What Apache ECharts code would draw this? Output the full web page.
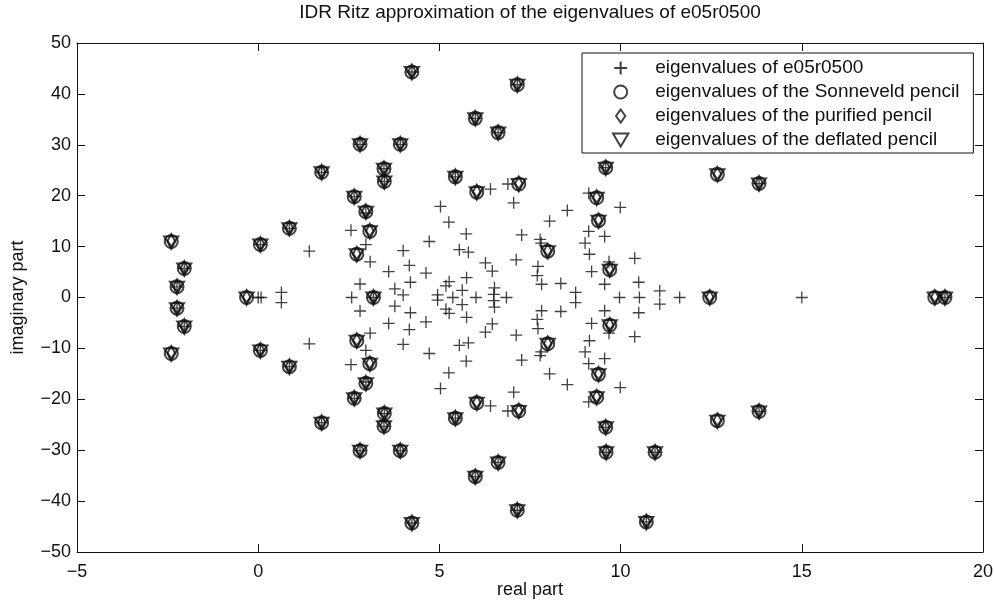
<!DOCTYPE html>
<html>
<head>
<meta charset="utf-8">
<script src="https://cdn.jsdelivr.net/npm/echarts@6/dist/echarts.min.js"></script>
<style>html,body{margin:0;padding:0;background:#fff;}#c{width:994px;height:600px;}</style>
</head>
<body>
<div id="c"></div>
<script>
// ---- data ----
const titleText = 'IDR Ritz approximation of the eigenvalues of e05r0500';
const xTicks = [-5, 0, 5, 10, 15, 20];
const yTicks = [-50, -40, -30, -20, -10, 0, 10, 20, 30, 40, 50];
const seriesNames = [
  'eigenvalues of e05r0500',
  'eigenvalues of the Sonneveld pencil',
  'eigenvalues of the purified pencil',
  'eigenvalues of the deflated pencil'
];

// eigenvalues of e05r0500 (real part / imaginary part)
const eigRe = [
  0.0, 0.08, 2.58, 3.18, 5.37, 6.01, 6.85, 9.97, 10.52, 11.63, 15.0, 18.95, 4.0,
  -2.04, -2.04, -2.24, -2.24, 0.06, 0.06, 0.86, 0.86, 1.75, 1.75, 2.81, 2.81,
  3.47, 3.47, 3.48, 3.48, 2.65, 2.65, 2.97, 2.97, 3.92, 3.92, 4.24, 4.24,
  5.99, 5.99, 6.62, 6.62, 7.15, 7.15, 5.44, 5.44, 9.59, 9.59, 13.82, 13.82,
  10.71, 10.71, 10.95, 10.95, 9.6, 9.6,
  0.64, 0.64, 1.41, 1.41, 2.56, 2.56, 2.97, 2.97, 3.09, 3.09, 3.6, 3.6,
  2.81, 2.81, 3.77, 3.77, 4.2, 4.2, 4.17, 4.17, 4.63, 4.63, 4.0, 4.0,
  4.72, 4.72, 5.03, 5.03, 5.26, 5.26, 5.74, 5.74, 5.55, 5.55, 5.8, 5.8,
  5.75, 5.75, 5.27, 5.27, 5.18, 5.18, 5.63, 5.63, 4.95, 4.95,
  6.41, 6.41, 6.89, 6.89, 7.05, 7.05, 7.27, 7.27, 7.78, 7.78, 7.81, 7.81,
  8.04, 8.04, 8.53, 8.53, 9.12, 9.12, 9.99, 9.99, 9.12, 9.12, 9.56, 9.56,
  9.02, 9.02, 9.14, 9.14, 9.2, 9.2, 9.68, 9.68, 10.39, 10.39, 10.5, 10.5,
  7.12, 7.12, 6.27, 6.27, 6.46, 6.46, 7.72, 7.72, 7.7, 7.7, 7.82, 7.82,
  8.35, 8.35, 9.56, 9.56, 6.52, 6.52, 6.5, 6.5, 8.76, 8.76, 11.08, 11.08
];
const eigIm = [
  0, 0, 0, 0, 0, 0, 0, 0, 0, 0, 0, 0, 0.5,
  5.7, -5.7, 2.1, -2.1, 10.4, -10.4, 13.6, -13.6, 24.6, -24.6, 30.1, -30.1,
  25.3, -25.3, 22.8, -22.8, 19.8, -19.8, 16.6, -16.6, 30.1, -30.1, 44.3, -44.3,
  35.2, -35.2, 32.4, -32.4, 41.8, -41.8, 23.7, -23.7, 25.5, -25.5, 22.4, -22.4,
  44.1, -44.1, 30.4, -30.4, 30.4, -30.4,
  1.0, -1.0, 9.1, -9.1, 13.2, -13.2, 10.4, -10.4, 7.0, -7.0, 5.1, -5.1,
  2.65, -2.65, 1.7, -1.7, 3.0, -3.0, 6.3, -6.3, 4.8, -4.8, 9.2, -9.2,
  11.0, -11.0, 17.9, -17.9, 14.8, -14.8, 12.5, -12.5, 9.4, -9.4, 8.9, -8.9,
  3.9, -3.9, 3.1, -3.1, 2.3, -2.3, 1.4, -1.4, 0.5, -0.5,
  21.3, -21.3, 22.3, -22.3, 18.6, -18.6, 12.3, -12.3, 11.4, -11.4, 10.7, -10.7,
  15.0, -15.0, 17.1, -17.1, 20.5, -20.5, 17.7, -17.7, 13.0, -13.0, 12.0, -12.0,
  10.7, -10.7, 8.5, -8.5, 5.1, -5.1, 7.0, -7.0, 7.7, -7.7, 3.0, -3.0,
  7.4, -7.4, 6.8, -6.8, 5.2, -5.2, 6.1, -6.1, 4.3, -4.3, 2.6, -2.6,
  2.75, -2.75, 2.6, -2.6, 1.9, -1.9, 0.6, -0.6, 1.0, -1.0, 1.3, -1.3
];

// Ritz values (Sonneveld, purified and deflated pencils coincide in the picture)
const ritzRe = [
  -0.32, 3.18, 12.46, 18.67, 18.95,
  -2.4, -2.4, -2.04, -2.04, -2.24, -2.24, 0.06, 0.06, 0.86, 0.86, 1.75, 1.75,
  2.81, 2.81, 3.47, 3.47, 3.48, 3.48, 2.65, 2.65, 2.97, 2.97, 3.08, 3.08,
  2.72, 2.72, 3.92, 3.92, 4.24, 4.24, 5.99, 5.99, 6.62, 6.62, 7.15, 7.15,
  5.44, 5.44, 6.03, 6.03, 7.19, 7.19, 9.59, 9.59, 9.34, 9.34, 9.39, 9.39,
  7.99, 7.99, 9.7, 9.7, 12.67, 12.67, 13.82, 13.82, 10.71, 10.71, 10.95, 10.95,
  9.6, 9.6
];
const ritzIm = [
  0, 0, 0, 0, 0,
  11.0, -11.0, 5.7, -5.7, 2.1, -2.1, 10.4, -10.4, 13.6, -13.6, 24.6, -24.6,
  30.1, -30.1, 25.3, -25.3, 22.8, -22.8, 19.8, -19.8, 16.85, -16.85, 13.0, -13.0,
  8.5, -8.5, 30.1, -30.1, 44.3, -44.3, 35.2, -35.2, 32.4, -32.4, 41.8, -41.8,
  23.7, -23.7, 20.7, -20.7, 22.3, -22.3, 25.5, -25.5, 19.6, -19.6, 15.1, -15.1,
  9.1, -9.1, 5.45, -5.45, 24.2, -24.2, 22.4, -22.4, 44.1, -44.1, 30.4, -30.4,
  30.4, -30.4
];
const sonRe = ritzRe, sonIm = ritzIm;
const purRe = ritzRe, purIm = ritzIm;
const defRe = ritzRe, defIm = ritzIm;

// ---- chart ----
const zip = (a, b) => a.map((v, i) => [v, b[i]]);
const FONT = '"Liberation Sans", Arial, Helvetica, sans-serif';
const INK = '#111';
const PLUS = 'path://M0,6 L12,6 M6,0 L6,12';
const DIAMOND = 'path://M5,0 L10,7 L5,14 L0,7 Z';
const TRI_DOWN = 'path://M0,0 L13,0 L6.5,11 Z';
const minus = (v) => String(v).replace('-', '\u2212');

const hollow = (w) => ({ color: 'rgba(0,0,0,0)', borderColor: INK, borderWidth: w });

const chart = echarts.init(document.getElementById('c'), null, { renderer: 'canvas' });
const axisCommon = (min, max, interval) => ({
  type: 'value', min, max, interval,
  axisLine: { show: true, onZero: false, lineStyle: { color: '#111', width: 1 } },
  axisTick: { show: true, inside: true, length: 8, lineStyle: { color: '#111', width: 1 } },
  splitLine: { show: false }
});

chart.setOption({
  animation: false,
  backgroundColor: '#fff',
  textStyle: { fontFamily: FONT },
  title: {
    text: titleText, left: 530, top: 3, textAlign: 'center', padding: 0,
    textStyle: { fontFamily: FONT, fontSize: 19, fontWeight: 'normal', color: INK }
  },
  legend: {
    orient: 'vertical', left: 582, top: 53,
    padding: [3, 14, 1, 30],
    itemWidth: 59, itemHeight: 13, itemGap: 0,
    symbolKeepAspect: true,
    backgroundColor: '#fff', borderColor: '#111', borderWidth: 1,
    textStyle: { fontFamily: FONT, fontSize: 19, color: INK, lineHeight: 24 },
    data: seriesNames
  },
  grid: { left: 77, right: 11, top: 43, bottom: 48, containLabel: false, outerBoundsMode: 'none' },
  xAxis: [
    Object.assign(axisCommon(xTicks[0], xTicks[xTicks.length - 1], 5), {
      position: 'bottom', name: 'real part', nameLocation: 'middle', nameGap: 29, nameMoveOverlap: false,
      nameTextStyle: { fontFamily: FONT, fontSize: 18, color: INK },
      axisLabel: { margin: 11, fontFamily: FONT, fontSize: 18, color: INK, formatter: minus }
    }),
    Object.assign(axisCommon(xTicks[0], xTicks[xTicks.length - 1], 5), {
      position: 'top', axisLabel: { show: false }
    })
  ],
  yAxis: [
    Object.assign(axisCommon(yTicks[0], yTicks[yTicks.length - 1], 10), {
      position: 'left', name: 'imaginary part', nameLocation: 'middle', nameGap: 50, nameRotate: 90,
      nameMoveOverlap: false,
      nameTextStyle: { fontFamily: FONT, fontSize: 18, color: INK },
      axisLabel: { margin: 6, fontFamily: FONT, fontSize: 18, color: INK, formatter: minus }
    }),
    Object.assign(axisCommon(yTicks[0], yTicks[yTicks.length - 1], 10), {
      position: 'right', axisLabel: { show: false }
    })
  ],
  series: [
    { name: seriesNames[0], type: 'scatter', data: zip(eigRe, eigIm), symbol: PLUS, symbolSize: 12,
      symbolKeepAspect: true, itemStyle: hollow(1.3), silent: true },
    { name: seriesNames[1], type: 'scatter', data: zip(sonRe, sonIm), symbol: 'circle', symbolSize: 13,
      symbolKeepAspect: true, itemStyle: hollow(2), silent: true },
    { name: seriesNames[2], type: 'scatter', data: zip(purRe, purIm), symbol: DIAMOND, symbolSize: [11, 15],
      symbolKeepAspect: true, itemStyle: hollow(2), silent: true },
    { name: seriesNames[3], type: 'scatter', data: zip(defRe, defIm), symbol: TRI_DOWN, symbolSize: [14, 12],
      symbolKeepAspect: true, itemStyle: hollow(2), silent: true }
  ]
});
</script>
</body>
</html>
